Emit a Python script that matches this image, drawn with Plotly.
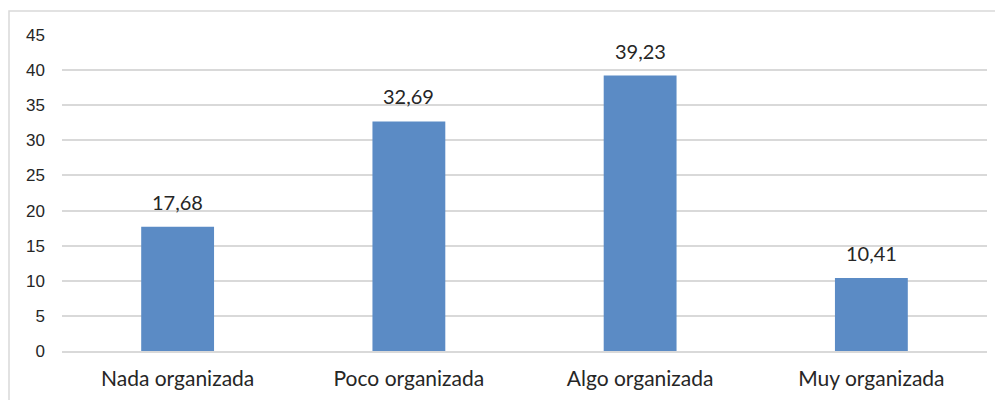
import plotly.graph_objects as go

categories = ["Nada organizada", "Poco organizada", "Algo organizada", "Muy organizada"]
values = [17.68, 32.69, 39.23, 10.41]
y_ticks = [0, 5, 10, 15, 20, 25, 30, 35, 40, 45]

bar_color = "#5B8BC5"
text_color = "#262626"
grid_color = "#D9D9D9"
label_font = "Lato, Open Sans, sans-serif"

fig = go.Figure(
    go.Bar(
        x=categories,
        y=values,
        marker=dict(color=bar_color, line=dict(width=0)),
        width=0.315,
        hoverinfo="x+y",
    )
)

# value labels above each bar
for cat, val in zip(categories, values):
    fig.add_annotation(
        x=cat, y=val, text=f"{val:.2f}".replace(".", ","),
        showarrow=False, yanchor="bottom", yshift=11,
        font=dict(family=label_font, size=20, color=text_color),
    )

# chart frame
fig.add_shape(
    type="rect", xref="paper", yref="paper",
    x0=-0.0573, x1=1.05, y0=-0.3, y1=1.076,
    line=dict(color="#D9D9D9", width=1.5), fillcolor="rgba(0,0,0,0)", layer="below",
)

fig.update_layout(
    width=995, height=400,
    margin=dict(l=62, r=8, t=35, b=49),
    paper_bgcolor="white", plot_bgcolor="white",
    separators=",.",
    showlegend=False,
    xaxis=dict(
        showgrid=False, showline=True, linecolor=grid_color, linewidth=1.5,
        ticks="", ticklabelstandoff=8,
        tickfont=dict(family=label_font, size=21, color=text_color),
    ),
    yaxis=dict(
        range=[0, 45], tickvals=y_ticks, showgrid=True, gridcolor=grid_color, gridwidth=1.5,
        zeroline=False, showline=False, ticks="", ticklabelstandoff=16,
        tickfont=dict(family="Liberation Sans, Arial, sans-serif", size=17, color=text_color),
    ),
)

fig.write_html("out.html")
